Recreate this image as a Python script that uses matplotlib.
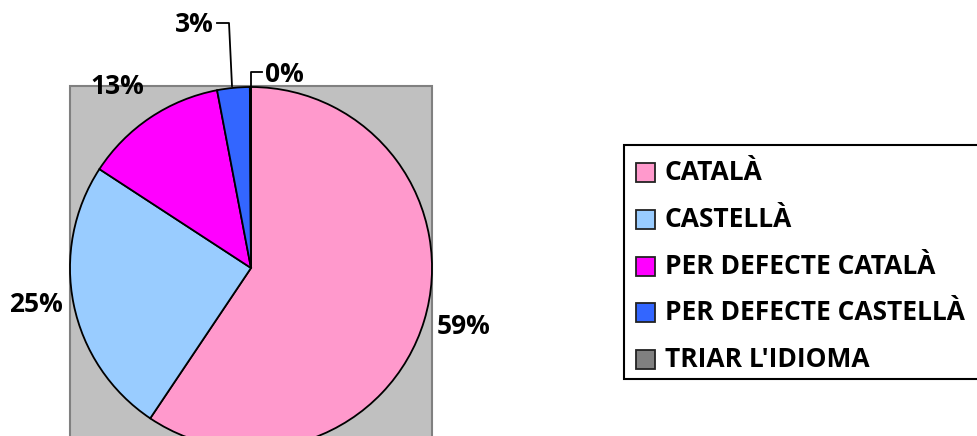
import matplotlib.pyplot as plt
from matplotlib.patches import Rectangle

W, H = 977, 436

labels = ["CATALÀ", "CASTELLÀ", "PER DEFECTE CATALÀ", "PER DEFECTE CASTELLÀ", "TRIAR L'IDIOMA"]
values = [59.4, 24.8, 12.8, 2.9, 0.1]
colors = ["#FF99CC", "#99CCFF", "#FF00FF", "#3366FF", "#808080"]

# label anchor positions in image pixels (x, y from top), alignment
label_pos = [(437, 327, "left"), (63, 305, "right"), (90, 86, "left"),
             (214, 25, "right"), (265, 74, "left")]

plt.rcParams["font.family"] = ["Open Sans", "DejaVu Sans"]

fig = plt.figure(figsize=(W / 100, H / 100), dpi=100)
ax = fig.add_axes([0, 0, 1, 1])


def py(y):
    # image pixel row -> data y
    return H - y


# gray plot area
ax.add_patch(Rectangle((70, py(86) - 362), 362, 362, facecolor="#C0C0C0",
                       edgecolor="#808080", linewidth=1.5, zorder=0))

ax.pie(values, colors=colors, startangle=90, counterclock=False,
       center=(251, py(268)), radius=181,
       wedgeprops=dict(edgecolor="black", linewidth=1.3))

for v, (x, y, ha) in zip(values, label_pos):
    ax.text(x, py(y), f"{v:.0f}%", ha=ha, va="center", fontsize=19,
            fontweight="bold", color="black")

# leader lines for the small slices
ax.plot([217, 229, 232], [py(23), py(23), py(86)], color="black", lw=1.3)
ax.plot([251, 251, 262], [py(87), py(72), py(72)], color="black", lw=1.3)

# legend
ax.add_patch(Rectangle((624, py(379)), 400, 234, facecolor="white",
                       edgecolor="black", linewidth=1.5))
for i, (lab, c) in enumerate(zip(labels, colors)):
    yc = 173 + i * 46.5
    ax.add_patch(Rectangle((636, py(yc) - 9.5), 19, 19, facecolor=c,
                           edgecolor="#222222", linewidth=1.3))
    ax.text(665, py(yc), lab, ha="left", va="center", fontsize=19,
            fontweight="bold", color="black")

ax.set_xlim(0, W)
ax.set_ylim(0, H)
ax.set_aspect("auto")
ax.axis("off")

fig.savefig("out.png", dpi=100)
